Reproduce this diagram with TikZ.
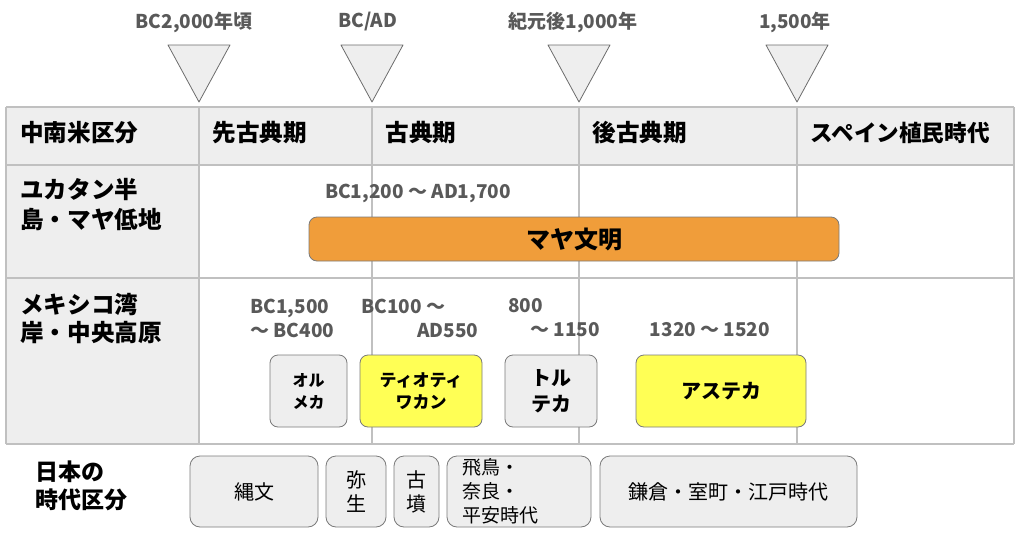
\documentclass[tikz,border=0pt]{standalone}
\usepackage{fontspec}
\setmainfont{Noto Sans CJK JP}
\usetikzlibrary{positioning}

\definecolor{hdrgray}{HTML}{EEEEEE}
\definecolor{gridgray}{HTML}{C0C0C0}
\definecolor{labelgray}{HTML}{595959}
\definecolor{mayaorange}{HTML}{F09D3A}
\definecolor{civyellow}{HTML}{FFFF55}
\definecolor{boxedge}{HTML}{7A7A7A}

\begin{document}
\begin{tikzpicture}[x=.5pt, y=-.5pt,
  hdr/.style={anchor=west, inner sep=0pt, align=left,
    font=\bfseries\fontsize{11.8}{15}\selectfont},
  yr/.style={inner sep=0pt, align=left, text=labelgray,
    font=\bfseries\fontsize{9.5}{12}\selectfont},
  civ/.style={draw=boxedge, rounded corners=4pt, inner sep=0pt,
    align=center, minimum height=36pt},
  era/.style={draw=boxedge, fill=hdrgray, rounded corners=5pt, inner sep=0pt,
    align=center, minimum height=35.5pt, font=\fontsize{10}{12}\selectfont},
  tri/.style={draw=gray!85!black, fill=hdrgray, line join=round}]
  \useasboundingbox (0,0) rectangle (1024,536);

  % table background and grid
  \fill [hdrgray] (6,107) rectangle (1014,165);
  \fill [hdrgray] (6,165) rectangle (199,444);
  \foreach \y in {107,165,278,444}
    \draw [gridgray, line width=.75pt] (6,\y) -- (1014,\y);
  \foreach \x in {6,199,372,579,797,1014}
    \draw [gridgray, line width=.75pt] (\x,107) -- (\x,444);

  % era markers
  \foreach \x/\dx/\t [count=\i] in {199/-5/{BC2,000年頃}, 372/-4/{BC/AD},
      579/-6/{紀元後1,000年}, 797/-2/{1,500年}} {
    \draw [tri] (\x-31,45) -- (\x+31,45) -- (\x,102) -- cycle;
    \node [yr] (mark\i) at (\x+\dx,22) {\t};
  }

  % header row
  \node [hdr] (h0) at (20,133) {中南米区分};
  \node [hdr] (h1) at (212,133) {先古典期};
  \node [hdr] (h2) at (385,133) {古典期};
  \node [hdr] (h3) at (592,133) {後古典期};
  \node [hdr, font=\bfseries\fontsize{11.3}{15}\selectfont] (h4) at (810,133) {スペイン植民時代};

  % row labels
  \node [hdr] (yucatan) at (20,205) {ユカタン半\\島・マヤ低地};
  \node [hdr, font=\bfseries\fontsize{11.8}{14}\selectfont]
    (mexico) at (20,319) {メキシコ湾\\岸・中央高原};
  \node [hdr, font=\bfseries\fontsize{11.5}{14}\selectfont]
    (japan) at (35,486) {日本の\\時代区分};

  % maya
  \node [yr] (mayayr) at (418,193) {BC1,200 〜 AD1,700};
  \node [civ, fill=mayaorange, minimum width=265pt, minimum height=22pt,
    font=\bfseries\fontsize{12}{14}\selectfont] (maya) at (574,239) {マヤ文明};

  % mexico
  \node [yr, anchor=west] (olmecayr) at (250,318) {BC1,500\\〜 BC400};
  \node [yr, anchor=west] (teoyr) at (361,318) {BC100 〜\\\hspace*{28pt}AD550};
  \node [yr, anchor=west] (toltecyr) at (508,318) {800\\\hspace*{11pt}〜 1150};
  \node [yr] (aztecyr) at (710,330) {1320 〜 1520};

  \node [civ, fill=hdrgray, minimum width=38.5pt,
    font=\bfseries\fontsize{8}{11}\selectfont] (olmeca) at (308.5,391) {オル\\メカ};
  \node [civ, fill=civyellow, minimum width=61pt,
    font=\bfseries\fontsize{8.5}{11}\selectfont] (teo) at (421,391) {ティオティ\\ワカン};
  \node [civ, fill=hdrgray, minimum width=46pt,
    font=\bfseries\fontsize{10}{13}\selectfont] (toltec) at (551,391) {トル\\テカ};
  \node [civ, fill=civyellow, minimum width=85pt,
    font=\bfseries\fontsize{10}{13}\selectfont] (aztec) at (721,391) {アステカ};

  % japan
  \node [era, minimum width=64pt] (jomon) at (254,491.5) {縄文};
  \node [era, minimum width=30pt] (yayoi) at (356,491.5) {弥\\生};
  \node [era, minimum width=22.5pt] (kofun) at (416.5,491.5) {古\\墳};
  \node [era, align=left, text width=57pt, inner xsep=7.5pt,
    font=\fontsize{9.5}{12}\selectfont] (asuka) at (519,491.5) {飛鳥・\\奈良・\\平安時代};
  \node [era, minimum width=128.5pt] (kamakura) at (728.5,491.5) {鎌倉・室町・江戸時代};
\end{tikzpicture}
\end{document}
